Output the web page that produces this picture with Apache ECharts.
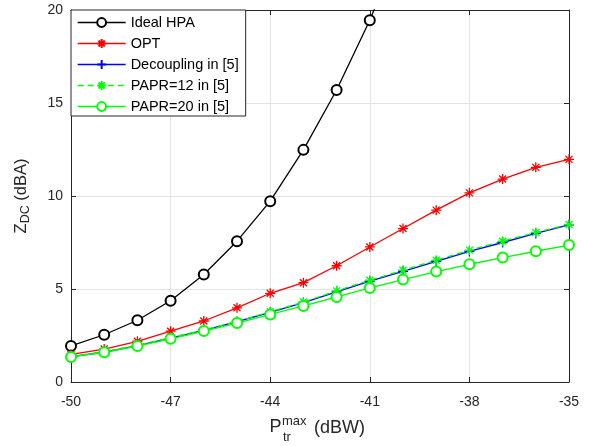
<!DOCTYPE html>
<html>
<head>
<meta charset="utf-8">
<script src="https://cdn.jsdelivr.net/npm/echarts@6/dist/echarts.min.js"></script>
<style>
  html, body { margin: 0; padding: 0; background: #fff; }
  #root { width: 590px; height: 446px; }
</style>
</head>
<body>
<div id="root"></div>
<script>
// x values (dBW)
const xValues = [-50, -49, -48, -47, -46, -45, -44, -43, -42, -41, -40, -39, -38, -37, -36, -35];

// series values (ideal HPA leaves the top after -41)
const idealHPA = [1.94, 2.54, 3.32, 4.37, 5.78, 7.57, 9.72, 12.48, 15.70, 19.45, 23.8];
const opt = [1.49, 1.77, 2.19, 2.73, 3.28, 3.99, 4.77, 5.34, 6.25, 7.26, 8.25, 9.24, 10.17, 10.91, 11.54, 11.97];
const decoupling = [1.36, 1.60, 1.96, 2.36, 2.78, 3.24, 3.74, 4.27, 4.85, 5.42, 5.95, 6.48, 7.02, 7.50, 7.99, 8.45];
const papr12 = [1.38, 1.63, 1.98, 2.38, 2.80, 3.26, 3.78, 4.30, 4.90, 5.47, 6.01, 6.55, 7.09, 7.57, 8.04, 8.47];
const papr20 = [1.35, 1.60, 1.93, 2.32, 2.74, 3.17, 3.63, 4.09, 4.57, 5.06, 5.51, 5.94, 6.33, 6.69, 7.03, 7.36];

const names = ['Ideal HPA', 'OPT', 'Decoupling in [5]', 'PAPR=12 in [5]', 'PAPR=20 in [5]'];

const pairs = (ys) => ys.map((y, i) => [xValues[i], y]);

const STAR = 'path://M0 5 L10 5 M5 0 L5 10 M1.5 1.5 L8.5 8.5 M1.5 8.5 L8.5 1.5';
const PLUS = 'path://M0 5 L10 5 M5 0 L5 10';
const AXIS_COLOR = '#262626';
const FONT = 'Liberation Sans, Arial, Helvetica, sans-serif';

const chart = echarts.init(document.getElementById('root'));

function lineSeries(name, data, color, symbol, size, dashed) {
  return {
    name: name,
    type: 'line',
    data: pairs(data),
    symbol: symbol,
    symbolSize: size,
    showAllSymbol: true,
    clip: true,
    lineStyle: { color: color, width: 1.3, type: dashed ? [6, 4] : 'solid' },
    itemStyle: { color: color, borderColor: color, borderWidth: 1.3 },
    emphasis: { disabled: true },
    animation: false
  };
}

const tickStyle = { inside: true, length: 5, lineStyle: { color: AXIS_COLOR, width: 1 } };

const option = {
  animation: false,
  textStyle: { fontFamily: FONT },
  grid: { left: 71, right: 21, top: 10, bottom: 64 },
  legend: {
    orient: 'vertical',
    left: 71,
    top: 10,
    padding: [5, 7, 2, 6],
    itemGap: 6,
    itemWidth: 48,
    itemHeight: 11,
    borderColor: AXIS_COLOR,
    borderWidth: 1,
    backgroundColor: '#fff',
    borderRadius: 0,
    lineStyle: { width: 1.3 },
    textStyle: { fontSize: 14.5, lineHeight: 14, color: '#000', fontFamily: FONT },
    data: names
  },
  xAxis: [
    {
      type: 'value', min: -50, max: -35, interval: 3,
      axisLine: { lineStyle: { color: AXIS_COLOR } },
      axisTick: tickStyle,
      axisLabel: { color: AXIS_COLOR, fontSize: 14, margin: 13, fontFamily: FONT },
      splitLine: { show: true, lineStyle: { color: '#e3e3e3', width: 1 } }
    },
    {
      type: 'value', position: 'top', min: -50, max: -35, interval: 3,
      axisLine: { show: true, onZero: false, lineStyle: { color: AXIS_COLOR } },
      axisTick: tickStyle,
      axisLabel: { show: false },
      splitLine: { show: false }
    }
  ],
  yAxis: [
    {
      type: 'value', min: 0, max: 20, interval: 5,
      axisLine: { show: true, lineStyle: { color: AXIS_COLOR } },
      axisTick: tickStyle,
      axisLabel: { color: AXIS_COLOR, fontSize: 14, margin: 8, fontFamily: FONT },
      splitLine: { show: true, lineStyle: { color: '#e3e3e3', width: 1 } },
      name: '{m|Z}{s|DC}{m| (dBA)}',
      nameLocation: 'middle',
      nameGap: 39,
      nameTextStyle: {
        rich: {
          m: { fontSize: 16.5, color: AXIS_COLOR, fontFamily: FONT },
          s: { fontSize: 12.5, color: AXIS_COLOR, fontFamily: FONT, padding: [9, 0, 0, 0] }
        }
      }
    },
    {
      type: 'value', position: 'right', min: 0, max: 20, interval: 5,
      axisLine: { show: true, onZero: false, lineStyle: { color: AXIS_COLOR } },
      axisTick: tickStyle,
      axisLabel: { show: false },
      splitLine: { show: false }
    }
  ],
  graphic: [
    { type: 'text', x: 269.5, y: 427, style: { text: 'P', font: '18px ' + FONT, fill: AXIS_COLOR, verticalAlign: 'middle' } },
    { type: 'text', x: 282, y: 421.5, style: { text: 'max', font: '13px ' + FONT, fill: AXIS_COLOR, verticalAlign: 'middle' } },
    { type: 'text', x: 283, y: 437.5, style: { text: 'tr', font: '13px ' + FONT, fill: AXIS_COLOR, verticalAlign: 'middle' } },
    { type: 'text', x: 314, y: 428, style: { text: '(dBW)', font: '18px ' + FONT, fill: AXIS_COLOR, verticalAlign: 'middle' } }
  ],
  series: [
    lineSeries(names[0], idealHPA, '#000000', 'emptyCircle', 10, false),
    lineSeries(names[1], opt, '#ff0000', STAR, 10, false),
    lineSeries(names[2], decoupling, '#0000ff', PLUS, 10, false),
    lineSeries(names[3], papr12, '#00ff00', STAR, 10, true),
    lineSeries(names[4], papr20, '#00ff00', 'emptyCircle', 10, false)
  ]
};

chart.setOption(option);
</script>
</body>
</html>
